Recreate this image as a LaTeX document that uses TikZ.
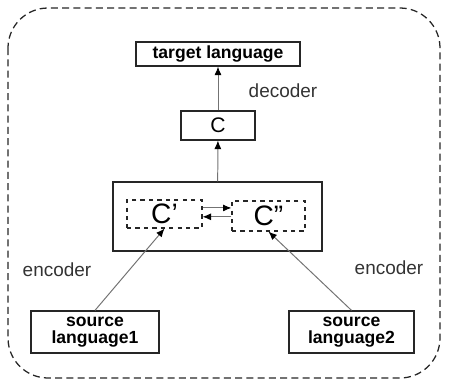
\documentclass[tikz,border=0pt]{standalone}
\usepackage{fontspec}
\setmainfont{Liberation Sans}
\usetikzlibrary{arrows.meta}
\tikzset{
  langbox/.style={draw=black!85, line width=0.9pt, font=\fontsize{12.5}{12.5}\selectfont\bfseries, align=center, inner sep=0pt},
  codebox/.style={draw=black!85, dashed, line width=0.8pt, inner sep=0pt, font=\fontsize{20}{20}\selectfont},
  flow/.style={draw=black!55, line width=0.7pt, -{Latex[black, length=6pt, width=5pt]}},
  lbl/.style={font=\fontsize{13.5}{14}\selectfont, text=black!80}
}
\begin{document}
\begin{tikzpicture}[x=0.025cm, y=-0.025cm]
\useasboundingbox (0,0) rectangle (449,383);
% outer frame
\draw[dashed, line width=0.9pt, black!85, rounded corners=1cm, dash pattern=on 5pt off 3pt] (8,8) rectangle (440,378);
% boxes
\node[langbox, minimum width=164*0.025cm, minimum height=24*0.025cm] (target) at (218,54) {target language};
\node[langbox, minimum width=74*0.025cm, minimum height=29*0.025cm, font=\fontsize{15}{15}\selectfont] (c) at (218,125.5) {C};
\node[draw=black!85, line width=0.9pt, minimum width=209*0.025cm, minimum height=69*0.025cm] (joint) at (217.5,216.5) {};
\node[codebox, minimum width=75*0.025cm, minimum height=28*0.025cm] (cp) at (164.5,214) {C'};
\node[codebox, minimum width=73*0.025cm, minimum height=30*0.025cm] (cpp) at (268.5,216) {C''};
\node[langbox, minimum width=128*0.025cm, minimum height=42*0.025cm] (src1) at (95,332) {source\\language1};
\node[langbox, minimum width=125*0.025cm, minimum height=42*0.025cm] (src2) at (351.5,332) {source\\language2};
% connectors
\draw[flow] (c) -- (target);
\draw[flow] (joint) -- (c);
\draw[flow] ([yshift=4.3pt]cp.east) -- ([yshift=4.3pt]cp.east -| cpp.west);
\draw[flow] ([yshift=-2pt]cp.east -| cpp.west) -- ([yshift=-2pt]cp.east);
\draw[flow] (src1.north) -- (cp.south);
\draw[flow] (src2.north) -- (cpp.south);
% labels
\node[lbl] (dec) at (283,91) {decoder};
\node[lbl] (enc1) at (57,270) {encoder};
\node[lbl] (enc2) at (389,268) {encoder};
\end{tikzpicture}
\end{document}
